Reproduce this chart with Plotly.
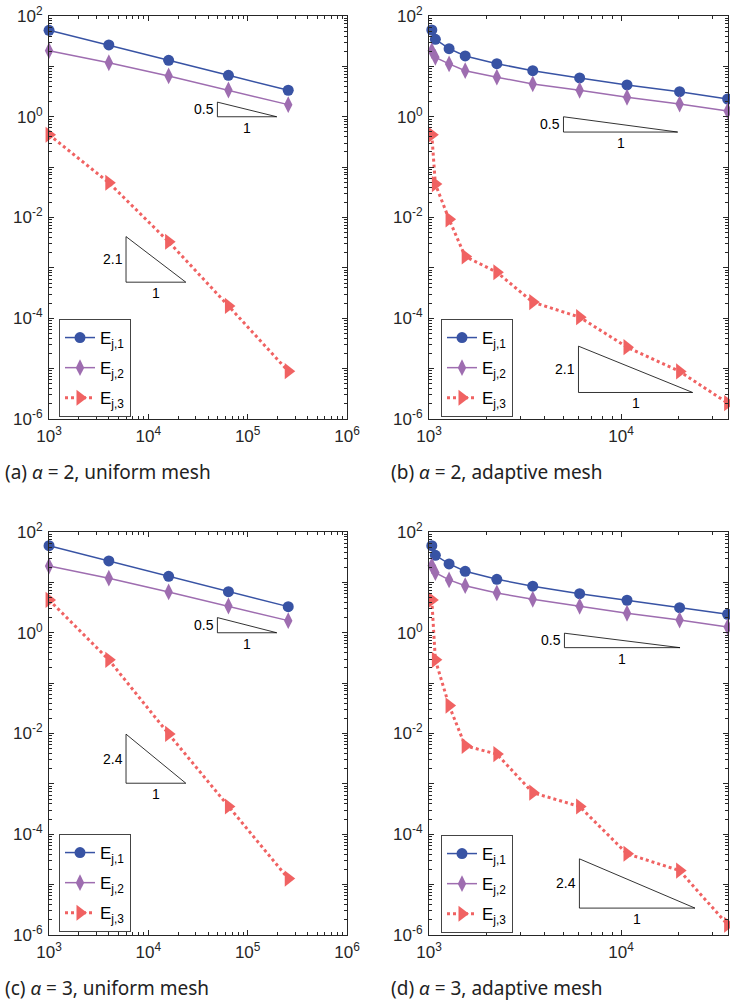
import math
import plotly.graph_objects as go

# ---------------- data ----------------
N_uniform = [1000, 4000, 16000, 64000, 256000]
N_adaptive = [1033, 1078, 1271, 1542, 2254, 3467, 6085, 10740, 20180, 35900]

a_E1 = [52, 26.6, 13.2, 6.66, 3.36]
a_E2 = [20.5, 11.8, 6.45, 3.4, 1.74]
a_E3 = [0.44, 0.049, 0.0033, 1.76e-4, 8.9e-6]

b_E1 = [52.7, 34.5, 22.5, 16.1, 11.3, 8.2, 5.9, 4.28, 3.15, 2.25]
b_E2 = [20.5, 15.1, 11.2, 8.2, 6.1, 4.48, 3.36, 2.44, 1.79, 1.30]
b_E3 = [0.44, 0.046, 0.0092, 0.00168, 8.2e-4, 2.09e-4, 1.05e-4, 2.67e-5, 8.8e-6, 2.07e-6]

c_E1 = [53.5, 26.6, 13.2, 6.55, 3.3]
c_E2 = [21.1, 12.1, 6.45, 3.4, 1.74]
c_E3 = [4.48, 0.29, 0.0098, 3.55e-4, 1.32e-5]

d_E1 = [53.5, 34.5, 23.2, 16.6, 11.5, 8.4, 5.97, 4.42, 3.15, 2.33]
d_E2 = [21.4, 15.6, 11.2, 8.6, 6.16, 4.62, 3.36, 2.44, 1.79, 1.30]
d_E3 = [4.48, 0.29, 0.0358, 0.0057, 0.0039, 6.7e-4, 3.55e-4, 4.1e-5, 1.9e-5, 1.6e-6]

series_names = ["E<sub>j,1</sub>", "E<sub>j,2</sub>", "E<sub>j,3</sub>"]
captions = ["(a) <i>α</i> = 2, uniform mesh", "(b) <i>α</i> = 2, adaptive mesh",
            "(c) <i>α</i> = 3, uniform mesh", "(d) <i>α</i> = 3, adaptive mesh"]

# slope triangles: (x_left, x_right, y_top, y_bottom, label)
tri_a = [(49550, 196300, 1.95, 1.0, "0.5"), (5957, 23820, 0.00418, 5.2e-4, "2.1")]
tri_b = [(5012, 19720, 1.0, 0.497, "0.5"), (6000, 23600, 2.79e-5, 3.36e-6, "2.1")]
tri_c = [(49550, 196300, 2.0, 1.0, "0.5"), (5957, 23820, 0.0097, 1.03e-3, "2.4")]
tri_d = [(5070, 20280, 0.98, 0.506, "0.5"), (6067, 24270, 3.25e-5, 3.42e-6, "2.4")]

# ---------------- style ----------------
W, H = 730, 1004
BLUE = "#3853a4"
PURPLE = "#9e6db0"
RED = "#f06262"
AX = "#262626"
TICKFONT = dict(family="Liberation Sans, Arial", size=17, color=AX)

# pixel positions (window coordinates)
panels = [
    dict(N=N_uniform, E=[a_E1, a_E2, a_E3], tri=tri_a, xr=[2.9995, 6], px=(49, 347), py=(16, 419),
         leg=(59, 319), cap=(3, 472)),
    dict(N=N_adaptive, E=[b_E1, b_E2, b_E3], tri=tri_b, xr=[2.9995, 4.557], px=(429, 728), py=(16, 419),
         leg=(441, 319), cap=(389, 472)),
    dict(N=N_uniform, E=[c_E1, c_E2, c_E3], tri=tri_c, xr=[2.9995, 6], px=(49, 347), py=(532, 935),
         leg=(59, 834), cap=(3, 988)),
    dict(N=N_adaptive, E=[d_E1, d_E2, d_E3], tri=tri_d, xr=[2.9995, 4.557], px=(429, 728), py=(532, 935),
         leg=(441, 835), cap=(389, 988)),
]


def fx(px):
    return px / W


def fy(py):
    return 1 - py / H


fig = go.Figure()
layout = dict(width=W, height=H, margin=dict(l=0, r=0, t=0, b=0, pad=0),
              paper_bgcolor="white", plot_bgcolor="white", showlegend=True)
annotations = []


def sup_label(k):
    return "10<sup>%d</sup>" % k


def minor_vals(lo, hi):
    vals = []
    for k in range(lo, hi + 1):
        for m in range(2, 10):
            vals.append(m * 10 ** k)
    return vals


line_styles = [
    dict(color=BLUE, width=1.5, dash="solid"),
    dict(color=PURPLE, width=1.5, dash="solid"),
    dict(color=RED, width=3, dash="dot"),
]
marker_styles = [
    dict(symbol="circle", size=11, color=BLUE),
    dict(symbol="diamond-tall", size=12, color=PURPLE),
    dict(symbol="triangle-right", size=14, color=RED),
]
LABFONT = dict(family="Liberation Sans, Arial", size=14, color="black")

for i, p in enumerate(panels):
    n = i + 1
    xa = "x" if n == 1 else "x%d" % n
    ya = "y" if n == 1 else "y%d" % n
    leg = "legend" if n == 1 else "legend%d" % n
    for s in range(3):
        fig.add_trace(go.Scatter(
            x=p["N"], y=p["E"][s], mode="lines+markers", name=series_names[s],
            line=line_styles[s], marker=marker_styles[s], cliponaxis=False,
            xaxis=xa, yaxis=ya, legend=leg, legendgroup="g%d_%d" % (n, s)))
    for (xl, xr_, yt, yb, lab) in p["tri"]:
        fig.add_trace(go.Scatter(
            x=[xl, xl, xr_, xl], y=[yt, yb, yb, yt], mode="lines",
            line=dict(color="black", width=0.8), showlegend=False, hoverinfo="skip",
            xaxis=xa, yaxis=ya))
        ymid = (math.log10(yt) + math.log10(yb)) / 2
        xmid = (math.log10(xl) + math.log10(xr_)) / 2
        annotations.append(dict(x=math.log10(xl), y=ymid, xref=xa, yref=ya, text=lab,
                                showarrow=False, xanchor="right", yanchor="middle", xshift=-1,
                                font=LABFONT))
        annotations.append(dict(x=xmid, y=math.log10(yb), xref=xa, yref=ya, text="1",
                                showarrow=False, xanchor="center", yanchor="top", yshift=-1,
                                font=LABFONT))

    x0, x1 = p["px"]
    y0, y1 = p["py"]
    xlo, xhi = p["xr"]
    xdecs = list(range(3, 7))
    ydecs = list(range(-6, 3))
    layout["xaxis" if n == 1 else "xaxis%d" % n] = dict(
        type="log", range=[xlo, xhi], domain=[fx(x0), fx(x1)], anchor=ya, automargin=False,
        showline=True, linecolor=AX, linewidth=1, mirror="allticks",
        ticks="inside", ticklen=5, tickcolor=AX, tickwidth=1,
        tickmode="array", tickvals=[10 ** k for k in xdecs], ticktext=[sup_label(k) for k in xdecs],
        minor=dict(ticks="inside", ticklen=3, tickcolor=AX, tickmode="array",
                   tickvals=minor_vals(3, 5), showgrid=False),
        showgrid=False, zeroline=False, tickfont=TICKFONT, ticklabelstandoff=2,
        ticklabeloverflow="allow")
    layout["yaxis" if n == 1 else "yaxis%d" % n] = dict(
        type="log", range=[-6, 2], domain=[fy(y1), fy(y0)], anchor=xa, automargin=False,
        showline=True, linecolor=AX, linewidth=1, mirror="allticks",
        ticks="inside", ticklen=5, tickcolor=AX, tickwidth=1,
        tickmode="array", tickvals=[10 ** k for k in ydecs],
        ticktext=[sup_label(k) if k % 2 == 0 else "" for k in ydecs],
        minor=dict(ticks="inside", ticklen=3, tickcolor=AX, tickmode="array",
                   tickvals=minor_vals(-6, 1), showgrid=False),
        showgrid=False, zeroline=False, tickfont=TICKFONT, ticklabelstandoff=2,
        ticklabeloverflow="allow")
    lx, ly = p["leg"]
    layout[leg] = dict(x=fx(lx), y=fy(ly), xanchor="left", yanchor="top",
                       bgcolor="white", bordercolor="#444444", borderwidth=1,
                       font=dict(family="Liberation Sans, Arial", size=17, color="black"),
                       traceorder="grouped", tracegroupgap=5, itemwidth=30)
    cx, cy = p["cap"]
    annotations.append(dict(x=fx(cx), y=fy(cy), xref="paper", yref="paper",
                            text=captions[i], showarrow=False, xanchor="left", yanchor="middle",
                            font=dict(family="Noto Sans", size=19, color="#222222")))

layout["annotations"] = annotations
fig.update_layout(**layout)
fig.write_html("out.html", config={"displayModeBar": False},
               post_script="document.body.style.margin='0';document.body.style.overflow='hidden';")
